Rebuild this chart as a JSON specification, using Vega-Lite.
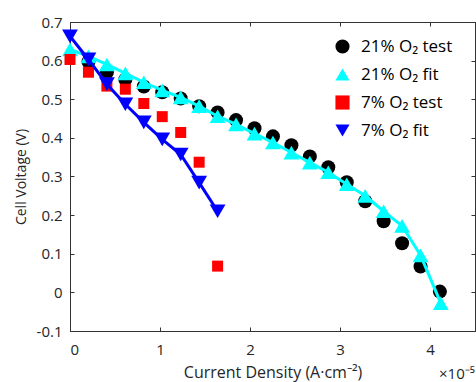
{
  "$schema": "https://vega.github.io/schema/vega-lite/v6.json",
  "width": 405,
  "height": 309,
  "autosize": "none",
  "padding": {"left": 70, "top": 22, "right": 1, "bottom": 51},
  "background": "white",
  "config": {
    "font": "Open Sans",
    "view": {"stroke": "#333333", "strokeWidth": 1},
    "axis": {"grid": false, "domainColor": "#333333", "tickColor": "#333333", "labelColor": "#262626", "titleColor": "#262626", "labelFont": "Open Sans", "titleFont": "Open Sans", "labelFontSize": 15, "titleFontSize": 14, "titleFontWeight": "normal", "tickSize": -4, "domainWidth": 1}
  },
  "datasets": {
    "pts": [
      {"s": "21% O₂ test", "x": 0.205, "y": 0.597},
      {"s": "21% O₂ test", "x": 0.41, "y": 0.57},
      {"s": "21% O₂ test", "x": 0.615, "y": 0.551},
      {"s": "21% O₂ test", "x": 0.82, "y": 0.533},
      {"s": "21% O₂ test", "x": 1.025, "y": 0.518},
      {"s": "21% O₂ test", "x": 1.23, "y": 0.502},
      {"s": "21% O₂ test", "x": 1.435, "y": 0.482},
      {"s": "21% O₂ test", "x": 1.64, "y": 0.466},
      {"s": "21% O₂ test", "x": 1.845, "y": 0.446},
      {"s": "21% O₂ test", "x": 2.05, "y": 0.425},
      {"s": "21% O₂ test", "x": 2.255, "y": 0.404},
      {"s": "21% O₂ test", "x": 2.46, "y": 0.381},
      {"s": "21% O₂ test", "x": 2.665, "y": 0.352},
      {"s": "21% O₂ test", "x": 2.87, "y": 0.324},
      {"s": "21% O₂ test", "x": 3.075, "y": 0.285},
      {"s": "21% O₂ test", "x": 3.28, "y": 0.236},
      {"s": "21% O₂ test", "x": 3.485, "y": 0.184},
      {"s": "21% O₂ test", "x": 3.69, "y": 0.127},
      {"s": "21% O₂ test", "x": 3.895, "y": 0.067},
      {"s": "21% O₂ test", "x": 4.11, "y": 0.002},
      {"s": "21% O₂ fit", "x": 0, "y": 0.629},
      {"s": "21% O₂ fit", "x": 0.205, "y": 0.611},
      {"s": "21% O₂ fit", "x": 0.41, "y": 0.59},
      {"s": "21% O₂ fit", "x": 0.615, "y": 0.567},
      {"s": "21% O₂ fit", "x": 0.82, "y": 0.544},
      {"s": "21% O₂ fit", "x": 1.025, "y": 0.523},
      {"s": "21% O₂ fit", "x": 1.23, "y": 0.505},
      {"s": "21% O₂ fit", "x": 1.435, "y": 0.482},
      {"s": "21% O₂ fit", "x": 1.64, "y": 0.456},
      {"s": "21% O₂ fit", "x": 1.845, "y": 0.435},
      {"s": "21% O₂ fit", "x": 2.05, "y": 0.411},
      {"s": "21% O₂ fit", "x": 2.255, "y": 0.388},
      {"s": "21% O₂ fit", "x": 2.46, "y": 0.362},
      {"s": "21% O₂ fit", "x": 2.665, "y": 0.336},
      {"s": "21% O₂ fit", "x": 2.87, "y": 0.311},
      {"s": "21% O₂ fit", "x": 3.075, "y": 0.28},
      {"s": "21% O₂ fit", "x": 3.28, "y": 0.25},
      {"s": "21% O₂ fit", "x": 3.485, "y": 0.21},
      {"s": "21% O₂ fit", "x": 3.69, "y": 0.172},
      {"s": "21% O₂ fit", "x": 3.895, "y": 0.096},
      {"s": "21% O₂ fit", "x": 4.12, "y": -0.028},
      {"s": "7% O₂ test", "x": 0, "y": 0.603},
      {"s": "7% O₂ test", "x": 0.205, "y": 0.57},
      {"s": "7% O₂ test", "x": 0.41, "y": 0.534},
      {"s": "7% O₂ test", "x": 0.615, "y": 0.526},
      {"s": "7% O₂ test", "x": 0.82, "y": 0.489},
      {"s": "7% O₂ test", "x": 1.025, "y": 0.455},
      {"s": "7% O₂ test", "x": 1.23, "y": 0.414},
      {"s": "7% O₂ test", "x": 1.435, "y": 0.337},
      {"s": "7% O₂ test", "x": 1.64, "y": 0.068},
      {"s": "7% O₂ fit", "x": 0, "y": 0.663},
      {"s": "7% O₂ fit", "x": 0.205, "y": 0.603},
      {"s": "7% O₂ fit", "x": 0.41, "y": 0.539},
      {"s": "7% O₂ fit", "x": 0.615, "y": 0.487},
      {"s": "7% O₂ fit", "x": 0.82, "y": 0.44},
      {"s": "7% O₂ fit", "x": 1.025, "y": 0.396},
      {"s": "7% O₂ fit", "x": 1.23, "y": 0.357},
      {"s": "7% O₂ fit", "x": 1.435, "y": 0.284},
      {"s": "7% O₂ fit", "x": 1.64, "y": 0.21}
    ],
    "frame": [{"x": 0, "y": 0}],
    "note": [{"x": 4.5, "y": -0.1, "t": "×10⁻⁵"}]
  },
  "resolve": {"scale": {"x": "independent", "y": "independent"}},
  "layer": [
    {
      "data": {"name": "pts"},
      "encoding": {
        "x": {"field": "x", "type": "quantitative", "scale": {"domain": [0, 4.5], "nice": false}, "axis": {"orient": "bottom", "values": [0, 1, 2, 3, 4], "title": "Current Density (A·cm⁻²)", "titleFontSize": 16, "labelPadding": 15, "titlePadding": 7, "format": "d"}},
        "y": {"field": "y", "type": "quantitative", "scale": {"domain": [-0.1, 0.7], "nice": false}, "axis": {"orient": "left", "values": [-0.1, 0, 0.1, 0.2, 0.3, 0.4, 0.5, 0.6, 0.7], "title": "Cell Voltage (V)", "labelPadding": 12, "titlePadding": 8, "labelExpr": "abs(datum.value) < 1e-9 ? '0' : (datum.value < 0 ? '-' + format(-datum.value, '.1f') : format(datum.value, '.1f'))"}},
        "color": {"field": "s", "type": "nominal", "scale": {"domain": ["21% O₂ test", "21% O₂ fit", "7% O₂ test", "7% O₂ fit"], "range": ["#000000", "#00FFFF", "#FF0000", "#0000FF"]}, "legend": {"title": null, "orient": "none", "legendX": 264, "legendY": 16, "labelFontSize": 17, "labelFont": "Open Sans", "labelColor": "#000000", "symbolSize": 200, "labelOffset": 10, "rowPadding": 10, "padding": 0}}
      },
      "layer": [
        {"transform": [{"filter": "datum.s == '21% O₂ test'"}], "mark": {"type": "point", "filled": true, "opacity": 1, "size": 196}, "encoding": {"shape": {"field": "s", "type": "nominal", "scale": {"domain": ["21% O₂ test", "21% O₂ fit", "7% O₂ test", "7% O₂ fit"], "range": ["circle", "triangle-up", "square", "triangle-down"]}, "legend": {"title": null, "orient": "none", "legendX": 264, "legendY": 16, "labelFontSize": 17, "labelFont": "Open Sans", "labelColor": "#000000", "symbolSize": 200, "labelOffset": 10, "rowPadding": 10, "padding": 0}}}},
        {"transform": [{"filter": "datum.s == '21% O₂ fit'"}], "mark": {"type": "line", "strokeWidth": 3}, "encoding": {"color": {"value": "#00FFFF"}}},
        {"transform": [{"filter": "datum.s == '21% O₂ fit'"}], "mark": {"type": "point", "filled": true, "opacity": 1, "size": 250}, "encoding": {"shape": {"field": "s", "type": "nominal"}}},
        {"transform": [{"filter": "datum.s == '7% O₂ test'"}], "mark": {"type": "point", "filled": true, "opacity": 1, "size": 121}, "encoding": {"shape": {"field": "s", "type": "nominal"}}},
        {"transform": [{"filter": "datum.s == '7% O₂ fit'"}], "mark": {"type": "line", "strokeWidth": 3}, "encoding": {"color": {"value": "#0000FF"}}},
        {"transform": [{"filter": "datum.s == '7% O₂ fit'"}], "mark": {"type": "point", "filled": true, "opacity": 1, "size": 250}, "encoding": {"shape": {"field": "s", "type": "nominal"}}}
      ]
    },
    {
      "data": {"name": "frame"},
      "mark": {"type": "point", "opacity": 0},
      "encoding": {
        "x": {"field": "x", "type": "quantitative", "scale": {"domain": [0, 4.5], "nice": false}, "axis": {"orient": "top", "values": [0, 1, 2, 3, 4], "labels": false, "title": null, "ticks": true, "zindex": 1}},
        "y": {"field": "y", "type": "quantitative", "scale": {"domain": [-0.1, 0.7], "nice": false}, "axis": {"orient": "right", "values": [-0.1, 0, 0.1, 0.2, 0.3, 0.4, 0.5, 0.6, 0.7], "labels": false, "title": null, "ticks": true, "zindex": 1}}
      }
    },
    {
      "data": {"name": "note"},
      "mark": {"type": "text", "align": "right", "baseline": "middle", "dy": 43, "fontSize": 15, "font": "Open Sans", "color": "#262626"},
      "encoding": {
        "x": {"field": "x", "type": "quantitative", "scale": {"domain": [0, 4.5], "nice": false}, "axis": null},
        "y": {"field": "y", "type": "quantitative", "scale": {"domain": [-0.1, 0.7], "nice": false}, "axis": null},
        "text": {"field": "t"}
      }
    }
  ]
}
